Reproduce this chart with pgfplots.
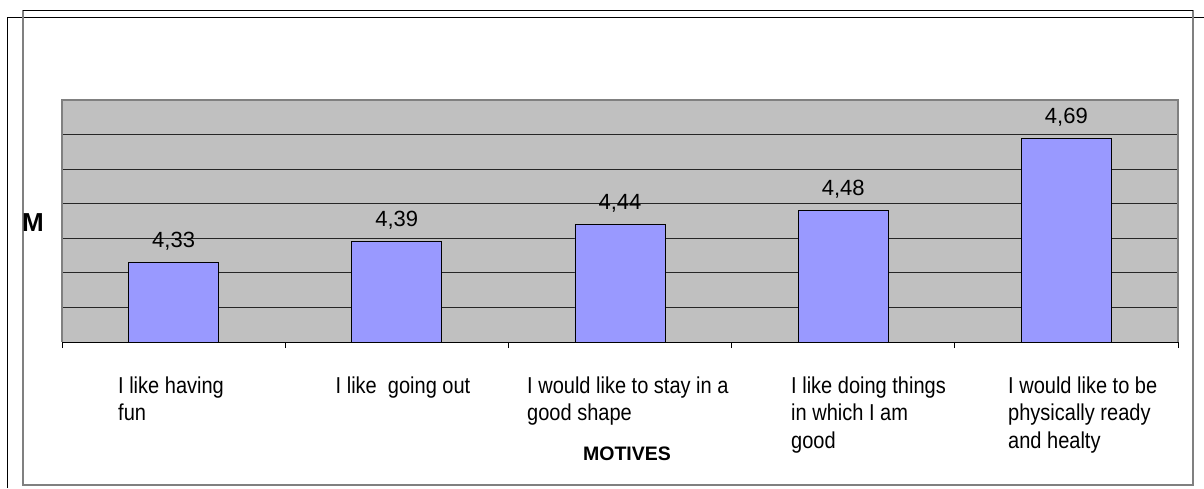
\documentclass[border=0pt]{standalone}
\usepackage{pgfplots}
\pgfplotsset{compat=1.18}
\usepackage{fontspec}
\setmainfont{Liberation Sans}
\newfontfamily\labfam[FakeStretch=0.87]{Liberation Sans}
\definecolor{plotbg}{HTML}{C0C0C0}
\definecolor{barfill}{HTML}{9999FF}
\definecolor{framegray}{HTML}{808080}
\newcommand{\labfont}{\labfam\fontsize{23}{27.5}\selectfont}
\newcommand{\lab}[1]{\vtop{\labfont\baselineskip=27.5pt #1}}
\begin{document}
\begin{tikzpicture}[x=1pt,y=1pt]
% outer frames
\draw[black, line width=1pt] (7,-488) -- (7,-17) -- (1204,-17);
\draw[framegray, line width=1.5pt] (23,-10) -- (23,-485) -- (1193,-485) -- (1193,-10);
\draw[black, line width=1pt] (23,-10) -- (1193,-10);
\begin{axis}[
  at={(62pt,-342pt)}, anchor=south west,
  scale only axis, width=1116pt, height=242pt,
  xmin=-0.5, xmax=4.5, ymin=4.1, ymax=4.8,
  clip mode=individual,
  axis background/.style={fill=plotbg},
  axis line style={draw=none},
  ytick={4.1,4.2,4.3,4.4,4.5,4.6,4.7,4.8}, yticklabels={},
  ymajorgrids, major grid style={black!85, line width=0.9pt},
  ytick style={draw=none},
  xtick={-0.5,0.5,1.5,2.5,3.5,4.5}, xticklabels={},
  xtick pos=left, tick align=outside, major tick length=6pt,
  xtick style={black, line width=0.8pt},
]
\addplot[ybar, bar width=90pt, fill=barfill, draw=black, line width=0.9pt,
  nodes near coords, point meta=explicit symbolic,
  every node near coord/.append style={anchor=base, yshift=15pt, inner sep=0pt,
    font=\fontsize{22}{22}\selectfont, text=black}]
  coordinates {
  (0,4.33) [4,33]
  (1,4.39) [4,39]
  (2,4.44) [4,44]
  (3,4.48) [4,48]
  (4,4.69) [4,69]
  };
\draw[framegray, line width=1.2pt] (rel axis cs:0,0) -- (rel axis cs:0,1) -- (rel axis cs:1,1) -- (rel axis cs:1,0);
\draw[black, line width=0.9pt] (rel axis cs:0,0) -- (rel axis cs:1,0);
\end{axis}
% category labels
\node[anchor=base west, inner sep=0pt] at (118,-393) {\lab{\hbox{I like having}\hbox{fun}}};
\node[anchor=base west, inner sep=0pt] at (335.5,-393) {\lab{\hbox{I like\ \ going out}}};
\node[anchor=base west, inner sep=0pt] at (527,-393) {\lab{\hbox{I would like to stay in a}\hbox{good shape}}};
\node[anchor=base west, inner sep=0pt] at (791,-393) {\lab{\hbox{I like doing things}\hbox{in which I am}\hbox{good}}};
\node[anchor=base west, inner sep=0pt] at (1008,-393) {\lab{\hbox{I would like to be}\hbox{physically ready}\hbox{and healty}}};
% axis titles
\node[anchor=base, inner sep=0pt, font=\fontsize{19.5}{19.5}\selectfont\bfseries] at (627,-460) {MOTIVES};
\node[anchor=base, inner sep=0pt, font=\fontsize{26}{26}\selectfont\bfseries] at (33,-231.5) {M};
\pgfresetboundingbox
\path[use as bounding box] (0,0) rectangle (1204,-488);
\end{tikzpicture}
\end{document}
